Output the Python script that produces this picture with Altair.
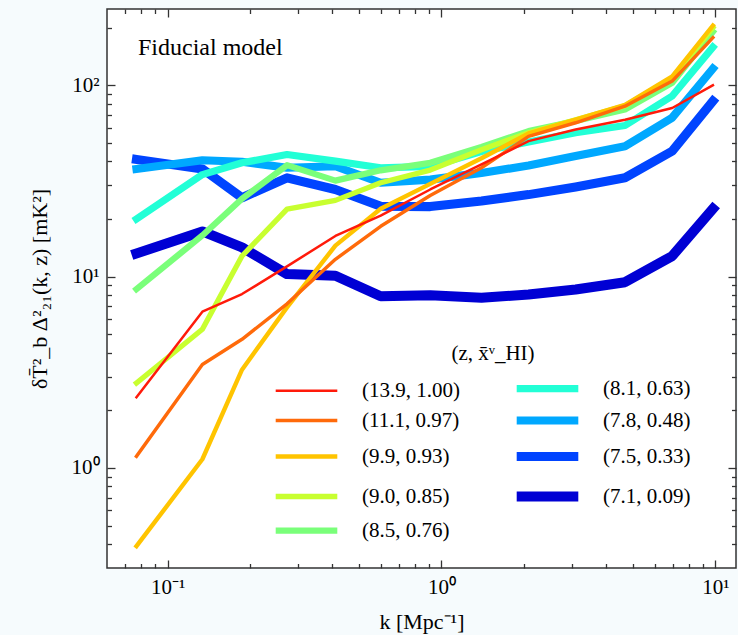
import altair as alt
import pandas as pd

# ---------------- data ----------------
k_values = [0.077, 0.134, 0.187, 0.273, 0.41, 0.60, 0.91, 1.40, 2.08, 3.09, 4.68, 6.96, 9.8]

series_labels = ["(13.9, 1.00)", "(11.1, 0.97)", "(9.9, 0.93)", "(9.0, 0.85)", "(8.5, 0.76)",
                 "(8.1, 0.63)", "(7.8, 0.48)", "(7.5, 0.33)", "(7.1, 0.09)"]

p_139 = [2.34, 6.55, 8.1, 11.3, 16.3, 20.8, 28.5, 38.5, 51, 58.6, 66, 76, 100]
p_111 = [1.15, 3.47, 4.7, 7.2, 12.3, 18.3, 26.5, 37, 54, 63.6, 77.6, 105, 177]
p_99 = [0.39, 1.11, 3.26, 6.9, 14.5, 22.6, 30.5, 41.5, 56, 66, 79, 111, 205]
p_90 = [2.78, 5.3, 12.8, 22.5, 25, 30.9, 36, 46, 56.4, 66, 78, 109, 200]
p_85 = [8.6, 16.4, 25.5, 38.2, 31.7, 35.9, 39.3, 47.5, 57.5, 65, 74.6, 103, 190]
p_81 = [20, 34.1, 39.3, 43.4, 40.1, 37, 37.6, 45, 50.5, 56.4, 61.5, 87.7, 158]
p_78 = [36.5, 40.5, 39.8, 37, 37.7, 30.9, 32.1, 34.8, 38, 42.6, 48, 67.6, 122]
p_75 = [40.9, 36.5, 25.8, 32.8, 28.5, 23.3, 23.2, 24.8, 26.8, 29.4, 32.8, 45.2, 82.5]
p_71 = [13.2, 17.2, 14.2, 10.3, 10.1, 7.89, 7.99, 7.74, 8.05, 8.55, 9.34, 12.8, 22.6]
series_values = [p_139, p_111, p_99, p_90, p_85, p_81, p_78, p_75, p_71]

series_colors = ["#ff1a0a", "#ff6a0a", "#ffc400", "#c8ff30", "#7aff7a",
                 "#22ffd6", "#00a8ff", "#0044ff", "#0000d4"]
# thinnest (first series) to thickest (last series), spread evenly
width_range = [2.5, 10.0]

x_major = [0.1, 1, 10]
x_minor = [0.07, 0.08, 0.09, 0.2, 0.3, 0.4, 0.5, 0.6, 0.7, 0.8, 0.9,
           2, 3, 4, 5, 6, 7, 8, 9]
y_major = [1, 10, 100]
y_minor = [0.4, 0.5, 0.6, 0.7, 0.8, 0.9, 2, 3, 4, 5, 6, 7, 8, 9,
           20, 30, 40, 50, 60, 70, 80, 90, 200]

# ---------------- table ----------------
rows = []
# draw the thick (late-time) curves first so the thin ones sit on top
for lab, vals in reversed(list(zip(series_labels, series_values))):
    for kk, v in zip(k_values, vals):
        rows.append({"k": kk, "P": v, "series": lab})
df = pd.DataFrame(rows)

SERIF = "Liberation Serif"
FRAME = "#333333"

xscale = alt.Scale(type="log", domain=[0.0601, 11.9], nice=False)
yscale = alt.Scale(type="log", domain=[0.3, 250], nice=False)

sup = "datum.value < 0.5 ? '10⁻¹' : datum.value < 5 ? '10⁰' : datum.value < 50 ? '10¹' : '10²'"

def ax(orient, values, size, labels=False, title=None, title_pad=None):
    kw = dict(orient=orient, values=values, tickSize={"expr": str(-size)},
              tickColor=FRAME, tickWidth=1.3, domain=False, grid=False,
              labels=labels)
    if labels:
        kw.update(labelExpr=sup, labelFont=SERIF, labelFontSize=21,
                  labelColor="black", labelPadding=16)
    if title is not None:
        kw.update(title=title, titleFont=SERIF, titleFontSize=22,
                  titleFontWeight="normal", titleColor="black")
        if title_pad is not None:
            kw.update(titlePadding=title_pad)
    else:
        kw.update(title=None)
    return alt.Axis(**kw)

legend = alt.Legend(
    title="(z, x̄ᵛ_HI)", orient="none", legendX=189, legendY=334,
    columns=2, symbolType="M-5.6,0H5.6", symbolSize=121,
    labelFont=SERIF, labelFontSize=21, labelColor="black", labelOffset=45,
    titleFont=SERIF, titleFontSize=21, titleFontWeight="normal", titleColor="black",
    titleAnchor="middle", titlePadding=14, rowPadding=1, columnPadding=36,
    padding=0,
)

base = alt.Chart(df)

lines = base.mark_line(strokeJoin="round", strokeCap="square").encode(
    x=alt.X("k:Q", scale=xscale,
            axis=ax("bottom", x_major, 8, labels=True, title="k [Mpc⁻¹]", title_pad=14)),
    y=alt.Y("P:Q", scale=yscale,
            axis=ax("left", y_major, 8, labels=True,
                    title="δT̄²_b Δ²₂₁(k, z) [mK²]", title_pad=20)),
    color=alt.Color("series:N", scale=alt.Scale(domain=series_labels, range=series_colors),
                    legend=legend),
    strokeWidth=alt.StrokeWidth("series:N",
                                scale=alt.Scale(domain=series_labels, range=width_range),
                                legend=legend),
    detail="series:N",
    order=alt.Order("k:Q"),
)

def dummy(xa, ya):
    return base.mark_point(opacity=0).encode(
        x=alt.X("k:Q", scale=xscale, axis=xa),
        y=alt.Y("P:Q", scale=yscale, axis=ya),
    )

l2 = dummy(ax("bottom", x_minor, 4.5), ax("left", y_minor, 4.5))
l3 = dummy(ax("top", x_major, 8), ax("right", y_major, 8))
l4 = dummy(ax("top", x_minor, 4.5), ax("right", y_minor, 4.5))

note = alt.Chart(pd.DataFrame({"t": ["Fiducial model"]})).mark_text(
    font=SERIF, fontSize=24, align="left", baseline="alphabetic", color="black"
).encode(text="t:N", x=alt.value(31), y=alt.value(46))

chart = alt.layer(l2, l3, l4, lines, note).resolve_axis(
    x="independent", y="independent"
).properties(
    width=629, height=559,
    autosize=alt.AutoSizeParams(type="none"),
    padding={"left": 107, "top": 9, "right": 2, "bottom": 67},
    background="#f6fbfd",
).configure_view(
    stroke=FRAME, strokeWidth=1.5, fill="white"
)

chart.save("out.html", embed_options={"renderer": "svg", "actions": False})
